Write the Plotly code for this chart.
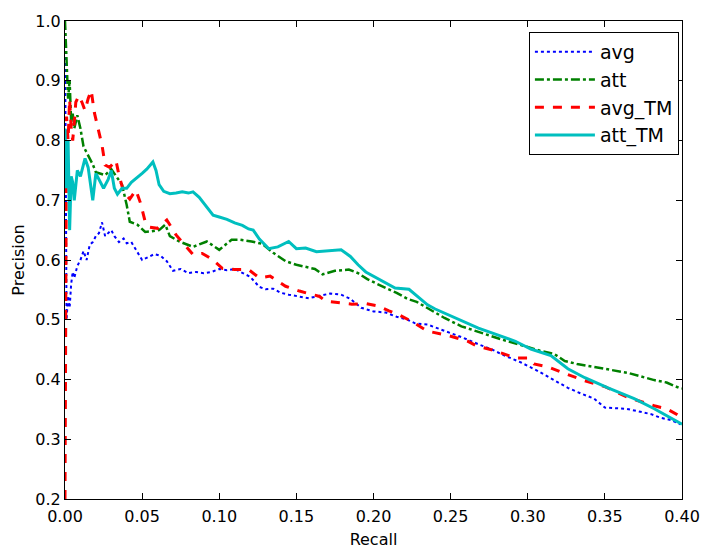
import plotly.graph_objects as go

avg_x = [0.0, 0.0005, 0.001, 0.002, 0.003, 0.004, 0.005, 0.006, 0.008, 0.010, 0.012, 0.014, 0.016, 0.018,
         0.020, 0.022, 0.024, 0.026, 0.028, 0.030, 0.032, 0.035, 0.038, 0.040, 0.043, 0.046, 0.050, 0.054,
         0.058, 0.062, 0.066, 0.070, 0.075, 0.080, 0.085, 0.090, 0.095, 0.100, 0.105, 0.110, 0.115, 0.120,
         0.126, 0.130, 0.135, 0.140, 0.145, 0.150, 0.158, 0.165, 0.172, 0.179, 0.185, 0.192, 0.200, 0.208,
         0.215, 0.222, 0.227, 0.235, 0.248, 0.258, 0.268, 0.277, 0.285, 0.296, 0.306, 0.316, 0.326, 0.335,
         0.343, 0.350, 0.356, 0.364, 0.373, 0.380, 0.386, 0.393, 0.399]
avg_y = [1.0, 0.52, 0.50, 0.54, 0.52, 0.56, 0.58, 0.57, 0.59, 0.60, 0.615, 0.60, 0.625, 0.63,
         0.64, 0.645, 0.663, 0.64, 0.645, 0.65, 0.64, 0.63, 0.636, 0.628, 0.63, 0.618, 0.60, 0.605,
         0.61, 0.607, 0.598, 0.582, 0.585, 0.578, 0.58, 0.578, 0.58, 0.585, 0.583, 0.585, 0.578, 0.572,
         0.555, 0.551, 0.552, 0.545, 0.542, 0.540, 0.536, 0.540, 0.544, 0.542, 0.535, 0.520, 0.514, 0.512,
         0.505, 0.500, 0.494, 0.492, 0.480, 0.470, 0.459, 0.450, 0.440, 0.428, 0.415, 0.400, 0.386, 0.376,
         0.368, 0.353, 0.352, 0.351, 0.346, 0.342, 0.336, 0.332, 0.325]

att_x = [0.0, 0.0005, 0.001, 0.002, 0.003, 0.004, 0.005, 0.006, 0.008, 0.010, 0.012, 0.014, 0.016, 0.018,
         0.020, 0.023, 0.026, 0.030, 0.033, 0.037, 0.040, 0.042, 0.047, 0.052, 0.056, 0.061, 0.065, 0.068,
         0.074, 0.083, 0.092, 0.100, 0.108, 0.113, 0.121, 0.128, 0.135, 0.143, 0.150, 0.156, 0.162, 0.167,
         0.175, 0.184, 0.190, 0.196, 0.202, 0.208, 0.215, 0.222, 0.228, 0.235, 0.246, 0.257, 0.270, 0.283,
         0.294, 0.308, 0.317, 0.324, 0.332, 0.347, 0.365, 0.382, 0.390, 0.398, 0.400]
att_y = [1.0, 0.96, 0.92, 0.87, 0.90, 0.83, 0.845, 0.82, 0.842, 0.82, 0.79, 0.78, 0.769, 0.76,
         0.747, 0.745, 0.742, 0.752, 0.74, 0.726, 0.692, 0.664, 0.659, 0.647, 0.648, 0.65, 0.659, 0.64,
         0.631, 0.622, 0.631, 0.617, 0.634, 0.634, 0.631, 0.627, 0.612, 0.598, 0.592, 0.589, 0.585, 0.576,
         0.582, 0.584, 0.578, 0.568, 0.56, 0.553, 0.545, 0.535, 0.53, 0.519, 0.503, 0.489, 0.478, 0.467,
         0.459, 0.448, 0.443, 0.431, 0.426, 0.419, 0.411, 0.399, 0.395, 0.386, 0.385]

avgtm_x = [0.0, 0.0003, 0.0006, 0.001, 0.002, 0.003, 0.004, 0.005, 0.006, 0.007, 0.009, 0.011, 0.013, 0.015,
           0.017, 0.018, 0.019, 0.021, 0.024, 0.026, 0.029, 0.033, 0.035, 0.038, 0.042, 0.046, 0.049, 0.052,
           0.055, 0.060, 0.066, 0.072, 0.078, 0.083, 0.089, 0.095, 0.102, 0.110, 0.119, 0.126, 0.133, 0.143,
           0.152, 0.160, 0.165, 0.169, 0.179, 0.186, 0.195, 0.203, 0.210, 0.216, 0.225, 0.235, 0.248, 0.261,
           0.267, 0.279, 0.292, 0.300, 0.304, 0.313, 0.324, 0.337, 0.350, 0.365, 0.382, 0.390, 0.397, 0.400]
avgtm_y = [0.2, 0.5, 0.8, 0.84, 0.80, 0.869, 0.82, 0.80, 0.83, 0.864, 0.875, 0.864, 0.85, 0.87,
           0.884, 0.86, 0.847, 0.825, 0.792, 0.759, 0.755, 0.767, 0.742, 0.714, 0.702, 0.717, 0.695, 0.664,
           0.655, 0.653, 0.667, 0.642, 0.625, 0.609, 0.611, 0.602, 0.586, 0.584, 0.584, 0.570, 0.573, 0.556,
           0.548, 0.542, 0.539, 0.531, 0.528, 0.526, 0.527, 0.523, 0.515, 0.509, 0.497, 0.481, 0.474, 0.464,
           0.456, 0.448, 0.436, 0.436, 0.426, 0.421, 0.410, 0.398, 0.388, 0.370, 0.356, 0.351, 0.341, 0.335]

atttm_x = [0.0, 0.001, 0.002, 0.003, 0.004, 0.005, 0.006, 0.008, 0.010, 0.013, 0.015, 0.018, 0.020, 0.023,
           0.025, 0.028, 0.030, 0.032, 0.034, 0.037, 0.040, 0.043, 0.046, 0.050, 0.053, 0.057, 0.059, 0.061,
           0.064, 0.068, 0.072, 0.076, 0.080, 0.083, 0.087, 0.090, 0.093, 0.096, 0.100, 0.105, 0.110, 0.115,
           0.119, 0.122, 0.126, 0.132, 0.138, 0.145, 0.150, 0.156, 0.163, 0.170, 0.179, 0.185, 0.190, 0.195,
           0.200, 0.205, 0.210, 0.214, 0.223, 0.228, 0.235, 0.240, 0.248, 0.257, 0.268, 0.279, 0.292, 0.302,
           0.315, 0.326, 0.337, 0.352, 0.369, 0.382, 0.390, 0.400]
atttm_y = [0.82, 0.72, 0.80, 0.65, 0.74, 0.73, 0.70, 0.75, 0.74, 0.77, 0.755, 0.70, 0.745, 0.73,
           0.72, 0.735, 0.75, 0.72, 0.71, 0.72, 0.72, 0.73, 0.736, 0.745, 0.752, 0.764, 0.75, 0.726,
           0.715, 0.711, 0.712, 0.714, 0.712, 0.714, 0.705, 0.695, 0.685, 0.675, 0.672, 0.668, 0.662, 0.658,
           0.652, 0.650, 0.635, 0.619, 0.622, 0.631, 0.619, 0.62, 0.614, 0.615, 0.617, 0.606, 0.592, 0.58,
           0.573, 0.565, 0.558, 0.553, 0.551, 0.54, 0.525, 0.518, 0.509, 0.498, 0.486, 0.476, 0.464, 0.451,
           0.44, 0.418, 0.403, 0.386, 0.368, 0.351, 0.34, 0.325]

x_ticks = [0.0, 0.05, 0.10, 0.15, 0.20, 0.25, 0.30, 0.35, 0.40]
y_ticks = [0.2, 0.3, 0.4, 0.5, 0.6, 0.7, 0.8, 0.9, 1.0]

fig = go.Figure()
fig.add_trace(go.Scatter(x=avg_x, y=avg_y, mode="lines", name="avg",
                         line=dict(color="#0000ff", width=2, dash="dot")))
fig.add_trace(go.Scatter(x=att_x, y=att_y, mode="lines", name="att",
                         line=dict(color="#008000", width=2.5, dash="dashdot")))
fig.add_trace(go.Scatter(x=avgtm_x, y=avgtm_y, mode="lines", name="avg_TM",
                         line=dict(color="#ff0000", width=3, dash="dash")))
fig.add_trace(go.Scatter(x=atttm_x, y=atttm_y, mode="lines", name="att_TM",
                         line=dict(color="#00bfbf", width=3)))

axis_common = dict(showline=True, linecolor="black", linewidth=1, mirror="ticks",
                   ticks="inside", ticklen=6, tickcolor="black", showgrid=False, zeroline=False,
                   tickfont=dict(family="DejaVu Sans", size=16, color="black"))

fig.update_layout(
    width=712, height=557,
    margin=dict(l=65, r=27, t=18, b=58),
    plot_bgcolor="white", paper_bgcolor="white",
    font=dict(family="DejaVu Sans", color="black"),
    xaxis=dict(range=[0, 0.40], tickvals=x_ticks, ticktext=[f"{v:.2f}" for v in x_ticks],
               ticklabelstandoff=3,
               title=dict(text="Recall", font=dict(size=16), standoff=8), **axis_common),
    yaxis=dict(range=[0.2, 1.0], tickvals=y_ticks, ticktext=[f"{v:.1f}" for v in y_ticks],
               title=dict(text="Precision", font=dict(size=16), standoff=6), **axis_common),
    legend=dict(x=0.995, y=0.977, xanchor="right", yanchor="top",
                bordercolor="black", borderwidth=1, bgcolor="white",
                font=dict(family="DejaVu Sans", size=19), itemwidth=60),
    showlegend=True,
)

fig.write_html("out.html")
